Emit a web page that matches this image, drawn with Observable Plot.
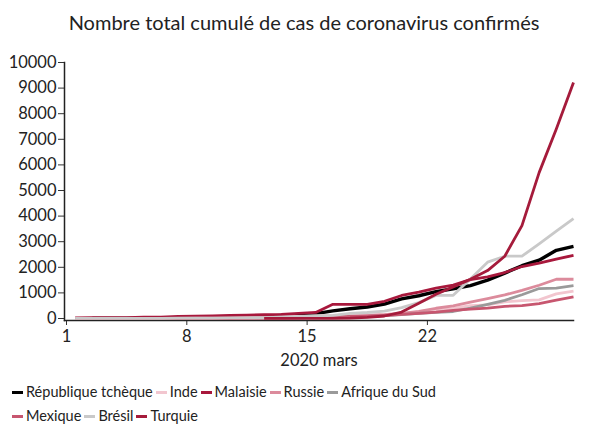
<!DOCTYPE html>
<html>
<head>
<meta charset="utf-8">
<script src="https://cdn.jsdelivr.net/npm/d3@7"></script>
<script src="https://cdn.jsdelivr.net/npm/@observablehq/plot@0.6"></script>
<style>
  body { margin: 0; background: #fff; font-family: Lato, "Open Sans", sans-serif; color: #222; }
  #title { height: 40px; line-height: 44px; text-align: center; font-size: 20px; padding-left: 8px; box-sizing: border-box; }
  #legend { display: flex; flex-wrap: wrap; width: 470px; padding-left: 12px; font-size: 14.5px; row-gap: 2px; margin-top: 6px; }
  .item { display: flex; align-items: center; margin-right: 3px; line-height: 22px; }
  .sw { width: 11px; height: 3px; margin-right: 3px; }
</style>
</head>
<body>
<div id="title">Nombre total cumulé de cas de coronavirus confirmés</div>
<div id="chart"></div>
<div id="legend"></div>
<script>
// Days of March 2020
const days = d3.range(1, 31);

const countries = ["République tchèque", "Inde", "Malaisie", "Russie", "Afrique du Sud", "Mexique", "Brésil", "Turquie"];
const colors = ["#000000", "#f2c6cf", "#a8183c", "#dc8b9c", "#9a9a9a", "#c7566f", "#c9c9c9", "#a51b3b"];

const czech = [null,3,3,5,5,8,19,26,32,38,63,94,116,141,189,298,383,450,560,765,889,1047,1161,1287,1497,1775,2062,2279,2663,2817];
const inde = [3,3,3,3,28,30,31,34,39,43,56,62,73,82,102,113,119,142,156,194,244,330,396,499,536,650,700,730,960,1071];
const malaisie = [25,29,29,36,50,55,83,93,99,117,129,149,158,197,238,553,553,553,673,900,1030,1183,1306,1518,1624,1796,2031,2161,2320,2470];
const russie = [2,3,3,3,3,4,4,10,10,17,20,28,34,45,59,63,93,114,147,199,280,400,495,640,780,920,1100,1300,1534,1534];
const afriqueSud = [null,null,null,null,null,1,1,2,3,7,7,13,17,24,38,51,62,85,116,150,202,240,274,402,554,709,927,1170,1187,1280];
const mexique = [4,4,5,5,5,5,6,7,7,7,8,12,15,26,41,53,82,93,118,164,203,251,316,367,405,475,500,585,717,848];
const bresil = [2,2,2,3,4,8,13,13,13,25,25,34,52,77,98,121,200,234,291,428,621,904,904,1546,2201,2433,2433,2915,3417,3904];
const turquie = [null,null,null,null,null,null,null,null,null,null,null,1,1,5,5,6,18,47,98,250,600,947,1236,1529,1872,2433,3629,5698,7402,9217];

const series = [czech, inde, malaisie, russie, afriqueSud, mexique, bresil, turquie];
const widths = [3.4, 2.8, 2.8, 2.8, 2.8, 2.8, 2.8, 2.8];

const yTicks = d3.range(0, 10001, 1000);
const xTickDays = [1, 8, 15, 22];

const toDate = (d, h) => new Date(Date.UTC(2020, 2, d, h));

const lineMarks = series.map((vals, i) => {
  const rows = [];
  days.forEach((d, j) => {
    if (vals[j] != null) rows.push({date: toDate(d, 12), value: vals[j]});
  });
  return Plot.line(rows, {x: "date", y: "value", stroke: colors[i], strokeWidth: widths[i], strokeLinejoin: "round", strokeLinecap: "butt"});
});

const chart = Plot.plot({
  width: 600,
  height: 335,
  marginTop: 22,
  marginBottom: 55,
  marginLeft: 64,
  marginRight: 27,
  style: {fontFamily: "Lato, 'Open Sans', sans-serif", fontSize: "16.5px", color: "#222", background: "white", overflow: "visible"},
  x: {type: "utc", domain: [toDate(1, 0), toDate(30, 12)], insetLeft: 2},
  y: {domain: [0, 10000], insetBottom: 2},
  marks: [
    Plot.axisY({ticks: yTicks, tickFormat: d3.format("d"), tickSize: 6, tickPadding: 2, label: null, stroke: "#333"}),
    Plot.axisX({ticks: xTickDays.map(d => toDate(d, 0)), tickFormat: d3.utcFormat("%-d"), tickSize: 5, tickPadding: 5, stroke: "#333",
      label: "2020 mars", labelAnchor: "center", labelOffset: 45, labelArrow: "none"}),
    Plot.frame({anchor: "left", stroke: "#222", strokeWidth: 1.5}),
    Plot.frame({anchor: "bottom", stroke: "#222", strokeWidth: 1.5}),
    ...lineMarks
  ]
});
document.getElementById("chart").appendChild(chart);

const legend = document.getElementById("legend");
countries.forEach((c, i) => {
  const item = document.createElement("div");
  item.className = "item";
  const sw = document.createElement("span");
  sw.className = "sw";
  sw.style.background = colors[i];
  const lab = document.createElement("span");
  lab.textContent = c;
  item.appendChild(sw);
  item.appendChild(lab);
  legend.appendChild(item);
});
</script>
</body>
</html>
